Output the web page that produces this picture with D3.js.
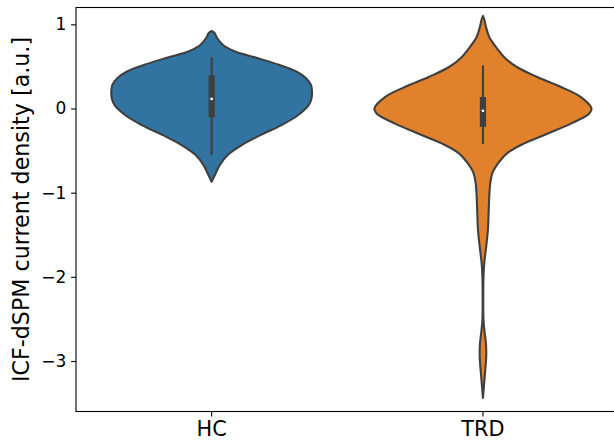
<!DOCTYPE html>
<html>
<head>
<meta charset="utf-8">
<script src="https://cdn.jsdelivr.net/npm/d3@7"></script>
<style>
  body { margin: 0; background: #fff; }
  svg { display: block; font-family: "DejaVu Sans", sans-serif; }
</style>
</head>
<body>
<svg width="614" height="446"></svg>
<script>
  var groups = ["HC", "TRD"];
  var colors = ["#3274a1", "#e1812c"];
  var yTicks = [-3, -2, -1, 0, 1];

  // violin outlines: value and half-width (1 = widest violin)
  var hcValue = [0.92, 0.90, 0.84, 0.76, 0.68, 0.60, 0.52, 0.44, 0.36, 0.28, 0.20, 0.12, 0.04,
    -0.08, -0.20, -0.32, -0.44, -0.55, -0.67, -0.79, -0.87];
  var hcWidth = [0, 0.025, 0.05, 0.10, 0.21, 0.42, 0.62, 0.78, 0.87, 0.915, 0.925, 0.92, 0.894,
    0.795, 0.639, 0.445, 0.27, 0.15, 0.076, 0.03, 0];

  var trdValue = [1.10, 1.06, 0.97, 0.85, 0.73, 0.61, 0.49, 0.375, 0.256, 0.138, 0.0, -0.06,
    -0.18, -0.30, -0.415, -0.53, -0.65, -0.77, -0.89, -1.05, -1.25, -1.44, -1.64, -1.84,
    -2.00, -2.24, -2.51, -2.65, -2.80, -2.95, -3.10, -3.25, -3.44];
  var trdWidth = [0, 0.012, 0.028, 0.058, 0.12, 0.196, 0.316, 0.50, 0.72, 0.90, 1.0, 0.98,
    0.81, 0.593, 0.38, 0.224, 0.141, 0.086, 0.067, 0.058, 0.052, 0.046, 0.030, 0.012,
    0.005, 0.003, 0.005, 0.015, 0.028, 0.030, 0.022, 0.012, 0];

  // inner box: lower whisker, q1, median, q3, upper whisker
  var hcBox = [-0.555, -0.107, 0.114, 0.395, 0.61];
  var trdBox = [-0.423, -0.218, -0.028, 0.137, 0.513];

  var profiles = [
    { value: hcValue, width: hcWidth, box: hcBox },
    { value: trdValue, width: trdWidth, box: trdBox }
  ];

  var svg = d3.select("svg"),
      gray = "#3f3f3f",
      plotLeft = 76, plotRight = 618.6, plotTop = 7.5, plotBottom = 411.5;

  var x = d3.scaleBand()
    .domain(groups)
    .range([plotLeft, plotRight]);

  var y = d3.scaleLinear()
    .domain([-3.6, 1.2])
    .range([plotBottom, plotTop]);

  var half = x.bandwidth() * 0.4;

  var g = svg.append("g");

  groups.forEach(function(name, i) {
    var p = profiles[i];
    var cx = x(name) + x.bandwidth() / 2;
    var pts = p.value.map(function(v, j) { return { v: v, w: p.width[j] }; });

    var area = d3.area()
      .y(function(d) { return y(d.v); })
      .x0(function(d) { return cx - d.w * half; })
      .x1(function(d) { return cx + d.w * half; })
      .curve(d3.curveCatmullRom.alpha(0.5));

    g.append("path")
      .datum(pts)
      .attr("d", area)
      .attr("fill", colors[i])
      .attr("stroke", gray)
      .attr("stroke-width", 2.08)
      .attr("stroke-linejoin", "round");

    // whisker
    g.append("line")
      .attr("x1", cx).attr("x2", cx)
      .attr("y1", y(p.box[0])).attr("y2", y(p.box[4]))
      .attr("stroke", gray)
      .attr("stroke-width", 2.08);

    // box
    g.append("line")
      .attr("x1", cx).attr("x2", cx)
      .attr("y1", y(p.box[1])).attr("y2", y(p.box[3]))
      .attr("stroke", gray)
      .attr("stroke-width", 6.25);

    // median
    g.append("circle")
      .attr("cx", cx)
      .attr("cy", y(p.box[2]))
      .attr("r", 2.0)
      .attr("fill", "white")
      .attr("stroke", gray)
      .attr("stroke-width", 1.2);
  });

  // frame
  svg.append("rect")
    .attr("x", plotLeft).attr("y", plotTop)
    .attr("width", plotRight - plotLeft).attr("height", plotBottom - plotTop)
    .attr("fill", "none")
    .attr("stroke", "black")
    .attr("stroke-width", 1.1);

  var yAxis = svg.append("g")
    .attr("transform", "translate(" + plotLeft + ",0)")
    .call(d3.axisLeft(y)
      .tickValues(yTicks)
      .tickSize(4.9)
      .tickPadding(4.9)
      .tickFormat(function(d) { return d < 0 ? "\u2212" + Math.abs(d) : d; }));

  var xAxis = svg.append("g")
    .attr("transform", "translate(0," + plotBottom + ")")
    .call(d3.axisBottom(x).tickSize(4.9).tickPadding(4.9));

  [yAxis, xAxis].forEach(function(a) {
    a.select(".domain").remove();
    a.selectAll(".tick line").attr("stroke", "black").attr("stroke-width", 1.1);
    a.selectAll(".tick text").attr("fill", "black").attr("font-family", "DejaVu Sans");
  });
  yAxis.selectAll(".tick text").attr("font-size", 17);
  xAxis.selectAll(".tick text").attr("font-size", 20.8);

  svg.append("text")
    .attr("transform", "rotate(-90)")
    .attr("x", -(plotTop + plotBottom) / 2)
    .attr("y", 28.5)
    .attr("text-anchor", "middle")
    .attr("font-size", 22.2)
    .attr("fill", "black")
    .text("ICF-dSPM current density [a.u.]");
</script>
</body>
</html>
